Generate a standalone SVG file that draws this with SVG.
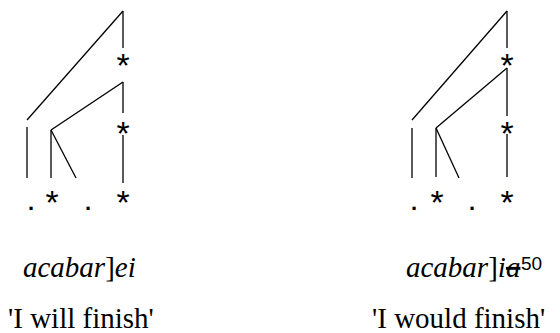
<svg xmlns="http://www.w3.org/2000/svg" width="560" height="333" viewBox="0 0 560 333">
<style>
.ln{stroke:#000;stroke-width:1.3;fill:none}
.ast{font-family:"Liberation Sans",Arial,sans-serif;font-size:34px;text-anchor:middle;fill:#000}
.dot{font-family:"Liberation Sans",sans-serif;font-size:22px;font-weight:bold;text-anchor:middle;fill:#000}
.it{font-family:"Liberation Serif",serif;font-style:italic;font-size:29px;fill:#000}
.rm{font-family:"Liberation Serif",serif;font-size:29px;fill:#000}
.sup{font-family:"Liberation Sans",sans-serif;font-size:19px;fill:#000}
</style>
<g id="connectors">
<line class="ln" x1="123" y1="11" x2="123" y2="48"/>
<line class="ln" x1="123" y1="11" x2="27" y2="120"/>
<line class="ln" x1="123" y1="82" x2="123" y2="113"/>
<line class="ln" x1="123" y1="82" x2="51" y2="130"/>
<line class="ln" x1="123" y1="135" x2="123" y2="183"/>
<line class="ln" x1="27" y1="127" x2="27" y2="178"/>
<line class="ln" x1="51" y1="130" x2="51" y2="178"/>
<line class="ln" x1="51" y1="130" x2="76" y2="178"/>
<line class="ln" x1="507" y1="11" x2="507" y2="48"/>
<line class="ln" x1="507" y1="11" x2="412" y2="120"/>
<line class="ln" x1="507" y1="68" x2="507" y2="116"/>
<line class="ln" x1="507" y1="68" x2="436" y2="128"/>
<line class="ln" x1="507" y1="134" x2="507" y2="177"/>
<line class="ln" x1="412" y1="128" x2="412" y2="178"/>
<line class="ln" x1="436" y1="128" x2="436" y2="177"/>
<line class="ln" x1="436" y1="128" x2="459" y2="178"/>
</g>
<g id="tree-left">
<text class="ast" x="123" y="77">*</text>
<text class="ast" x="123" y="145">*</text>
<text class="ast" x="123" y="214">*</text>
<text class="ast" x="52" y="214">*</text>
<text class="dot" x="31" y="210">.</text>
<text class="dot" x="88" y="210">.</text>
</g>
<g id="tree-right">
<text class="ast" x="507" y="77">*</text>
<text class="ast" x="507" y="145">*</text>
<text class="ast" x="507" y="214">*</text>
<text class="ast" x="437" y="214">*</text>
<text class="dot" x="414" y="210">.</text>
<text class="dot" x="472" y="210">.</text>
</g>
<g id="label-left">
<text class="it" x="23" y="277">acabar<tspan font-style="normal">]</tspan>ei</text>
<text class="rm" x="8" y="328">'I will finish'</text>
</g>
<g id="label-right">
<text class="it" x="406" y="277">acabar<tspan font-style="normal">]</tspan>i<tspan text-decoration="line-through">a</tspan></text>
<text class="sup" x="521" y="270">50</text>
<text class="rm" x="372" y="328">'I would finish'</text>
</g>
</svg>
